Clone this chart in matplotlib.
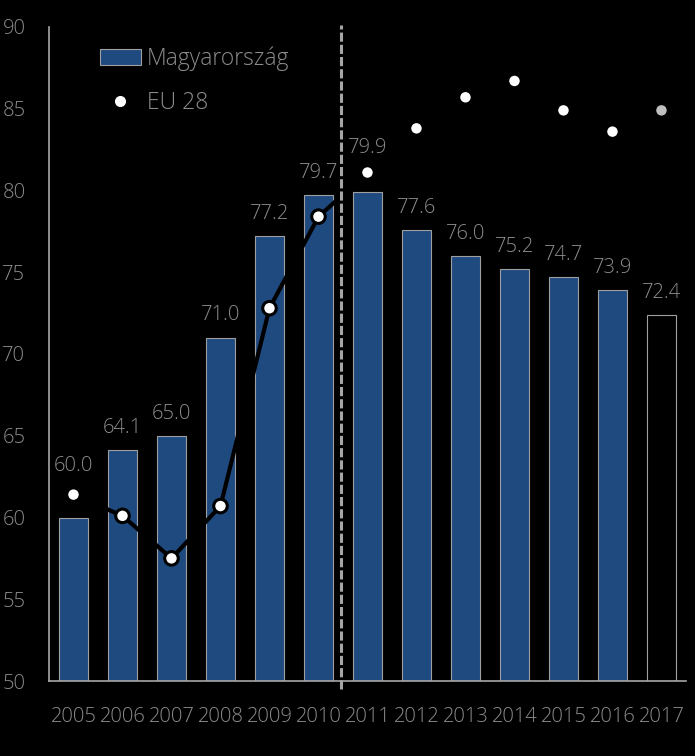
import numpy as np
import matplotlib
matplotlib.use("Agg")
from matplotlib import pyplot as plt
from matplotlib.patches import Patch
from matplotlib.lines import Line2D

# adatok
years = ['2005', '2006', '2007', '2008', '2009', '2010', '2011',
         '2012', '2013', '2014', '2015', '2016', '2017']
hu = [60.0, 64.1, 65.0, 71.0, 77.2, 79.7, 79.9, 77.6, 76.0, 75.2, 74.7, 73.9, 72.4]
eu28 = [61.4, 60.1, 57.5, 60.7, 72.8, 78.4, 81.1, 83.8, 85.7, 86.7, 84.9, 83.6, 84.9]
y_ticks = [50, 55, 60, 65, 70, 75, 80, 85, 90]

plt.rcParams['font.family'] = ['Open Sans', 'DejaVu Sans']
txt = '#8c8c8c'
blue = '#1f4a80'

fig = plt.figure(figsize=(6.95, 7.56), dpi=100)
fig.patch.set_facecolor('black')
ax = fig.add_axes([0.0705, 0.0992, 0.9165, 0.8651])
ax.set_facecolor('black')

x = np.arange(len(years))
fills = [blue] * (len(years) - 1) + ['black']
bars = ax.bar(x, [v - 50 for v in hu], bottom=50, width=0.61, color=fills,
              edgecolor='#a0a0a0', linewidth=0.8, zorder=2)

# adatfeliratok
for i, v in enumerate(hu):
    off = 16
    if i == 0:
        off = 37
    if i == 6:
        off = 32
    ax.annotate(f'{v:.1f}', (x[i], v), xytext=(0, off), textcoords='offset points',
                ha='center', va='center', color=txt, fontsize=14.5, fontweight='light')

# EU 28 vonal
ax.plot(x, eu28, color='black', linewidth=3, zorder=3)
mcol = ['white'] * (len(years) - 1) + ['#bfbfbf']
ax.scatter(x, eu28, s=95, c=mcol, edgecolors='black', linewidths=2.2, zorder=4)

# szaggatott elválasztó
ax.plot([5.46, 5.46], [49.5, 90.1], color='#a6a6a6', linewidth=2.2,
        linestyle=(0, (3, 1)), clip_on=False, zorder=5)

ax.set_xlim(-0.5, 12.5)
ax.set_ylim(50, 90)
ax.set_yticks(y_ticks)
ax.set_xticks(x)
ax.set_xticklabels(years)
ax.tick_params(axis='y', length=0, pad=17, labelsize=14.5, labelcolor=txt)
ax.tick_params(axis='x', length=0, pad=19, labelsize=14.5, labelcolor=txt)
for lab in ax.get_xticklabels() + ax.get_yticklabels():
    lab.set_fontweight('light')
for s in ['top', 'right']:
    ax.spines[s].set_visible(False)
for s in ['left', 'bottom']:
    ax.spines[s].set_color('#a6a6a6')
    ax.spines[s].set_linewidth(1.2)

handles = [Patch(facecolor=blue, edgecolor='#a0a0a0', linewidth=0.8),
           Line2D([], [], linestyle='none', marker='o', markersize=9,
                  markerfacecolor='white', markeredgecolor='black')]
leg = ax.legend(handles, ['Magyarország', 'EU 28'], loc='upper left',
                bbox_to_anchor=(0.047, 1.002), frameon=False, fontsize=16.5,
                handlelength=1.8, handleheight=0.7, handletextpad=0.25,
                labelspacing=0.87)
for t in leg.get_texts():
    t.set_color(txt)
    t.set_fontweight('light')

fig.savefig('out.png', dpi=100, facecolor='black')
